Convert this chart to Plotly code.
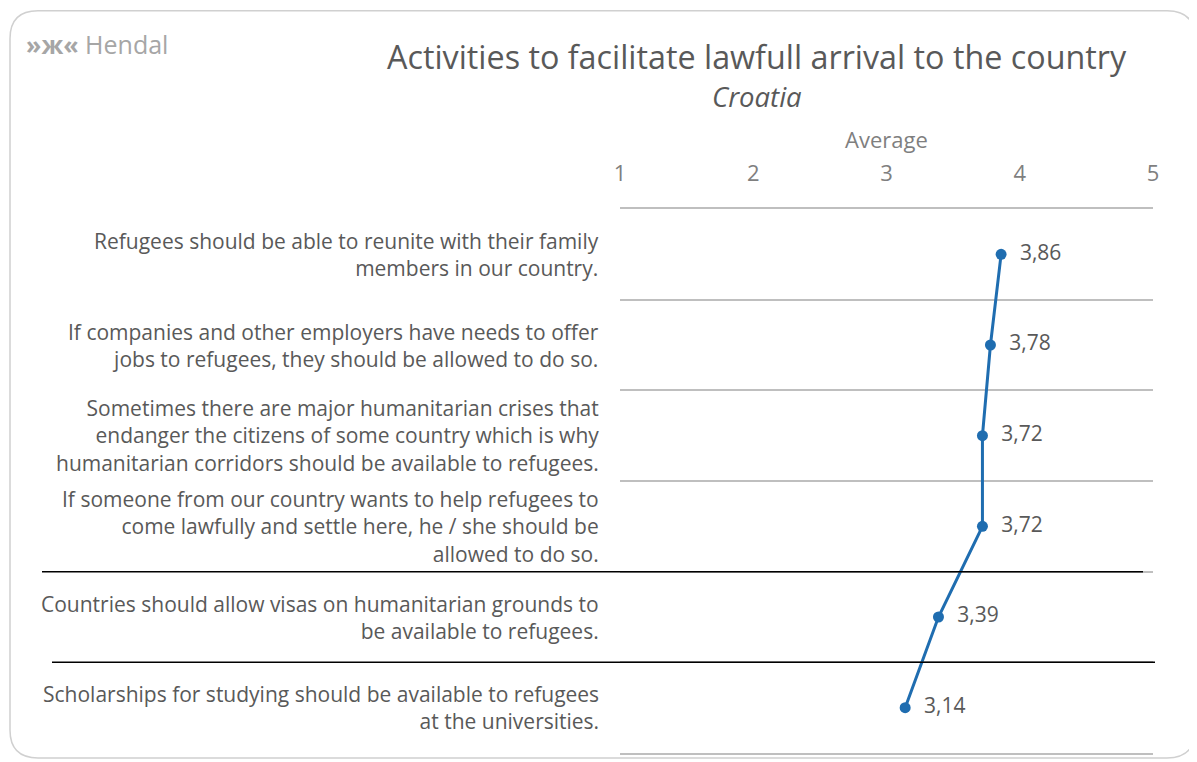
import plotly.graph_objects as go

# statements (top to bottom) and their averages
statements = [
    "Refugees should be able to reunite with their family<br>members in our country.",
    "If companies and other employers have needs to offer<br>jobs to refugees, they should be allowed to do so.",
    "Sometimes there are major humanitarian crises that<br>endanger the citizens of some country which is why<br>humanitarian corridors should be available to refugees.",
    "If someone from our country wants to help refugees to<br>come lawfully and settle here, he / she should be<br>allowed to do so.",
    "Countries should allow visas on humanitarian grounds to<br>be available to refugees.",
    "Scholarships for studying should be available to refugees<br>at the universities.",
]
averages = [3.86, 3.78, 3.72, 3.72, 3.39, 3.14]
scale_ticks = [1, 2, 3, 4, 5]

# page body has an 8px margin, so work in screen pixels and shift by OFF
OFF = 8
W, H = 1189, 754
L, R, T, B = 620 - OFF, W - (1153 - OFF), 209 - OFF, H - (755 - OFF)
pw, ph = W - L - R, H - T - B


def px(x):
    return (x - OFF - L) / pw


def py(y):
    return (H - B - (y - OFF)) / ph


rows = [i + 0.5 for i in range(len(statements))]
grey = "#595959"
blue = "#1f6db0"
font = "Open Sans"

fig = go.Figure()
fig.add_trace(go.Scatter(
    x=averages, y=rows, mode="lines+markers+text",
    line=dict(color=blue, width=3),
    marker=dict(color=blue, size=11),
    text=["  " + f"{v:.2f}".replace(".", ",") for v in averages],
    textposition="middle right",
    textfont=dict(family=font, size=21, color=grey),
    cliponaxis=False, hoverinfo="skip",
))

annotations = []
for s, r in zip(statements, rows):
    annotations.append(dict(
        x=px(601), xref="paper", y=r, yref="y", text=s, showarrow=False,
        xanchor="right", yanchor="middle", align="right",
        font=dict(family=font, size=21, color=grey),
    ))

annotations += [
    dict(x=px(757), xref="paper", y=py(55), yref="paper", showarrow=False,
         text="Activities to facilitate lawfull arrival to the country",
         font=dict(family=font, size=32.3, color=grey), xanchor="center", yanchor="middle"),
    dict(x=px(757), xref="paper", y=py(96), yref="paper", showarrow=False,
         text="<i>Croatia</i>",
         font=dict(family=font, size=27.5, color=grey), xanchor="center", yanchor="middle"),
    dict(x=px(24), xref="paper", y=py(43), yref="paper", showarrow=False,
         text="<b>»ж«</b> Hendal",
         font=dict(family=font, size=25, color="#a6a6a6"), xanchor="left", yanchor="middle"),
]

# rounded card outline
x0, y0, x1, y1, rad = 10, 10, 1195, 760, 28
card = (f"M {px(x0 + rad)} {py(y0)} L {px(x1 - rad)} {py(y0)} "
        f"Q {px(x1)} {py(y0)} {px(x1)} {py(y0 + rad)} L {px(x1)} {py(y1 - rad)} "
        f"Q {px(x1)} {py(y1)} {px(x1 - rad)} {py(y1)} L {px(x0 + rad)} {py(y1)} "
        f"Q {px(x0)} {py(y1)} {px(x0)} {py(y1 - rad)} L {px(x0)} {py(y0 + rad)} "
        f"Q {px(x0)} {py(y0)} {px(x0 + rad)} {py(y0)} Z")

shapes = [
    dict(type="path", path=card, xref="paper", yref="paper",
         line=dict(color="#d0d0d0", width=1.5), layer="below"),
    dict(type="line", xref="paper", yref="y", x0=px(42), x1=px(1143), y0=4, y1=4,
         line=dict(color="black", width=1.5)),
    dict(type="line", xref="paper", yref="y", x0=px(52), x1=px(1155), y0=5, y1=5,
         line=dict(color="black", width=1.5)),
]

fig.update_layout(
    width=W, height=H, margin=dict(l=L, r=R, t=T, b=B),
    paper_bgcolor="white", plot_bgcolor="white", showlegend=False,
    annotations=annotations, shapes=shapes,
    xaxis=dict(range=[1, 5], side="top", tickvals=scale_ticks, showgrid=False,
               zeroline=False, showline=True, mirror=True, linecolor="#bfbfbf",
               linewidth=1.5, ticks="outside", ticklen=17,
               tickcolor="rgba(0,0,0,0)",
               tickfont=dict(family=font, size=22, color="#7f7f7f"),
               title=dict(text="Average", standoff=3,
                          font=dict(family=font, size=22, color="#7f7f7f"))),
    yaxis=dict(range=[6, 0], tickvals=list(range(7)), showticklabels=False,
               showgrid=True, gridcolor="#bfbfbf", gridwidth=1.5, zeroline=False),
)

fig.write_html("out.html")
